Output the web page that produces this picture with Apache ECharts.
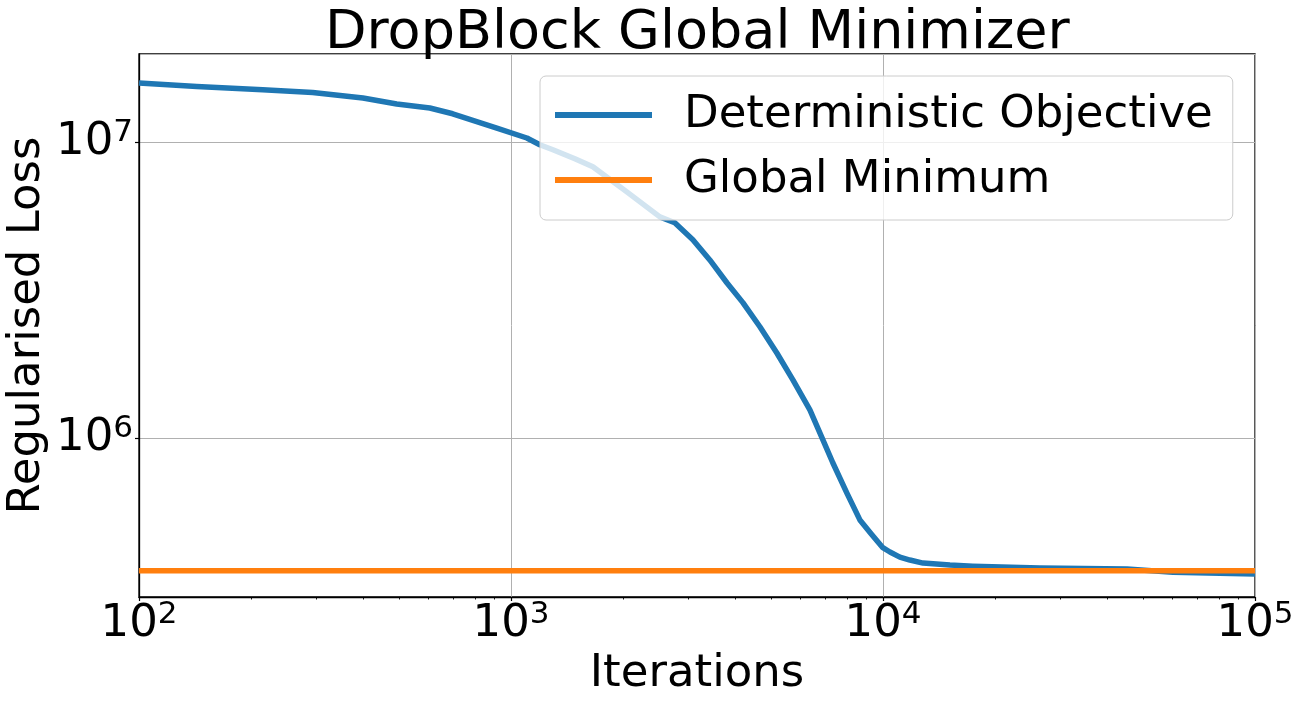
<!DOCTYPE html>
<html><head><meta charset="utf-8">
<script src="https://cdn.jsdelivr.net/npm/echarts@6/dist/echarts.min.js"></script>
<style>html,body{margin:0;padding:0;background:#fff}#c{width:1300px;height:703px}</style>
</head><body><div id="c"></div>
<script>
// ---- data ----
const iterations = [100, 143, 215, 293, 400, 493, 605, 697, 916, 1103, 1195, 1296, 1485, 1660, 2048, 2513, 2756, 3082, 3423, 3804, 4201, 4667, 5184, 5725, 6360, 6894, 7334, 7998, 8667, 9300, 9990, 10440, 11100, 11810, 12810, 15130, 17440, 26410, 45270, 60190, 100000];
const objective = [1.582e7, 1.541e7, 1.502e7, 1.471e7, 1.408e7, 1.344e7, 1.303e7, 1.246e7, 1.115e7, 1.032e7, 9.79e6, 9.42e6, 8.78e6, 8.25e6, 6.79e6, 5.59e6, 5.34e6, 4.68e6, 4.00e6, 3.35e6, 2.87e6, 2.38e6, 1.94e6, 1.574e6, 1.246e6, 9.87e5, 8.25e5, 6.53e5, 5.30e5, 4.75e5, 4.27e5, 4.13e5, 3.97e5, 3.88e5, 3.79e5, 3.73e5, 3.70e5, 3.65e5, 3.62e5, 3.53e5, 3.48e5];
const globalMinimum = 3.571e5;
const xRange = [100, 100000];
const yRange = [2.911e5, 1.983e7];
const xMinorTicks = [200,300,400,500,600,700,800,900,2000,3000,4000,5000,6000,7000,8000,9000,20000,30000,40000,50000,60000,70000,80000,90000];
const seriesNames = ['Deterministic Objective', 'Global Minimum'];
const titleText = 'DropBlock Global Minimizer';
const xName = 'Iterations';
const yName = 'Regularised Loss';

const FONT = 'DejaVu Sans';
const sup = v => '{b|10}{s|' + Math.round(Math.log10(v)) + '}';
const richLbl = {
  b: {fontSize: 45, lineHeight: 50, fontFamily: FONT, color: '#000'},
  s: {fontSize: 31, lineHeight: 31, fontFamily: FONT, color: '#000', verticalAlign: 'top'}
};

const chart = echarts.init(document.getElementById('c'), null, {renderer: 'canvas'});
chart.setOption({
  animation: false,
  backgroundColor: '#fff',
  title: {
    text: titleText, left: 320, top: 2,
    textStyle: {fontFamily: FONT, fontSize: 54, fontWeight: 'normal', color: '#000', lineHeight: 54}
  },
  grid: {left: 139, right: 45, top: 54, bottom: 106, containLabel: false, outerBoundsMode: 'none',
    show: true, borderColor: '#000', borderWidth: 1.3, backgroundColor: 'transparent'},
  legend: {
    orient: 'vertical', left: 540, top: 76,
    padding: [13, 20, 14, 15], itemGap: 13,
    itemWidth: 97, itemHeight: 6, icon: 'rect',
    backgroundColor: 'rgba(255,255,255,0.8)', borderColor: '#cccccc', borderWidth: 1, borderRadius: 6,
    textStyle: {fontFamily: FONT, fontSize: 45, lineHeight: 52, color: '#000', padding: [0, 0, 0, 27]},
    data: seriesNames
  },
  xAxis: [{
    type: 'log', logBase: 10, min: xRange[0], max: xRange[1],
    name: xName, nameLocation: 'middle', nameGap: 52, nameMoveOverlap: false,
    nameTextStyle: {fontFamily: FONT, fontSize: 45, color: '#000', lineHeight: 50},
    axisLine: {show: true, lineStyle: {color: '#000', width: 1.3}},
    axisTick: {show: true, length: 4, lineStyle: {color: '#000', width: 1.2}},
    axisLabel: {margin: 2, formatter: sup, rich: richLbl},
    splitLine: {show: true, lineStyle: {color: '#b0b0b0', width: 1}},
    minorTick: {show: false}
  }, {
    type: 'log', logBase: 10, min: xRange[0], max: xRange[1], position: 'bottom', gridIndex: 0,
    axisLine: {show: false},
    axisTick: {show: true, length: 2.5, customValues: xMinorTicks, lineStyle: {color: '#000', width: 0.9}},
    axisLabel: {show: false},
    splitLine: {show: false}
  }],
  yAxis: {
    type: 'log', logBase: 10, min: yRange[0], max: yRange[1],
    name: yName, nameLocation: 'middle', nameGap: 87, nameMoveOverlap: false,
    nameTextStyle: {fontFamily: FONT, fontSize: 45, color: '#000', lineHeight: 50},
    axisLine: {show: true, lineStyle: {color: '#000', width: 1.3}},
    axisTick: {show: true, length: 4, lineStyle: {color: '#000', width: 1.2}},
    axisLabel: {margin: 6, formatter: sup, rich: richLbl, showMinLabel: false, showMaxLabel: false},
    splitLine: {show: true, lineStyle: {color: '#b0b0b0', width: 1}}
  },
  series: [{
    name: seriesNames[0], type: 'line', xAxisIndex: 0,
    data: iterations.map((x, i) => [x, objective[i]]),
    showSymbol: false, symbol: 'none',
    lineStyle: {color: '#1f77b4', width: 5.5, join: 'round', cap: 'butt'}, itemStyle: {color: '#1f77b4'}
  }, {
    name: seriesNames[1], type: 'line', xAxisIndex: 0,
    data: [[xRange[0], globalMinimum], [xRange[1], globalMinimum]],
    showSymbol: false, symbol: 'none',
    lineStyle: {color: '#ff7f0e', width: 5.5}, itemStyle: {color: '#ff7f0e'}
  }]
});
</script></body></html>
